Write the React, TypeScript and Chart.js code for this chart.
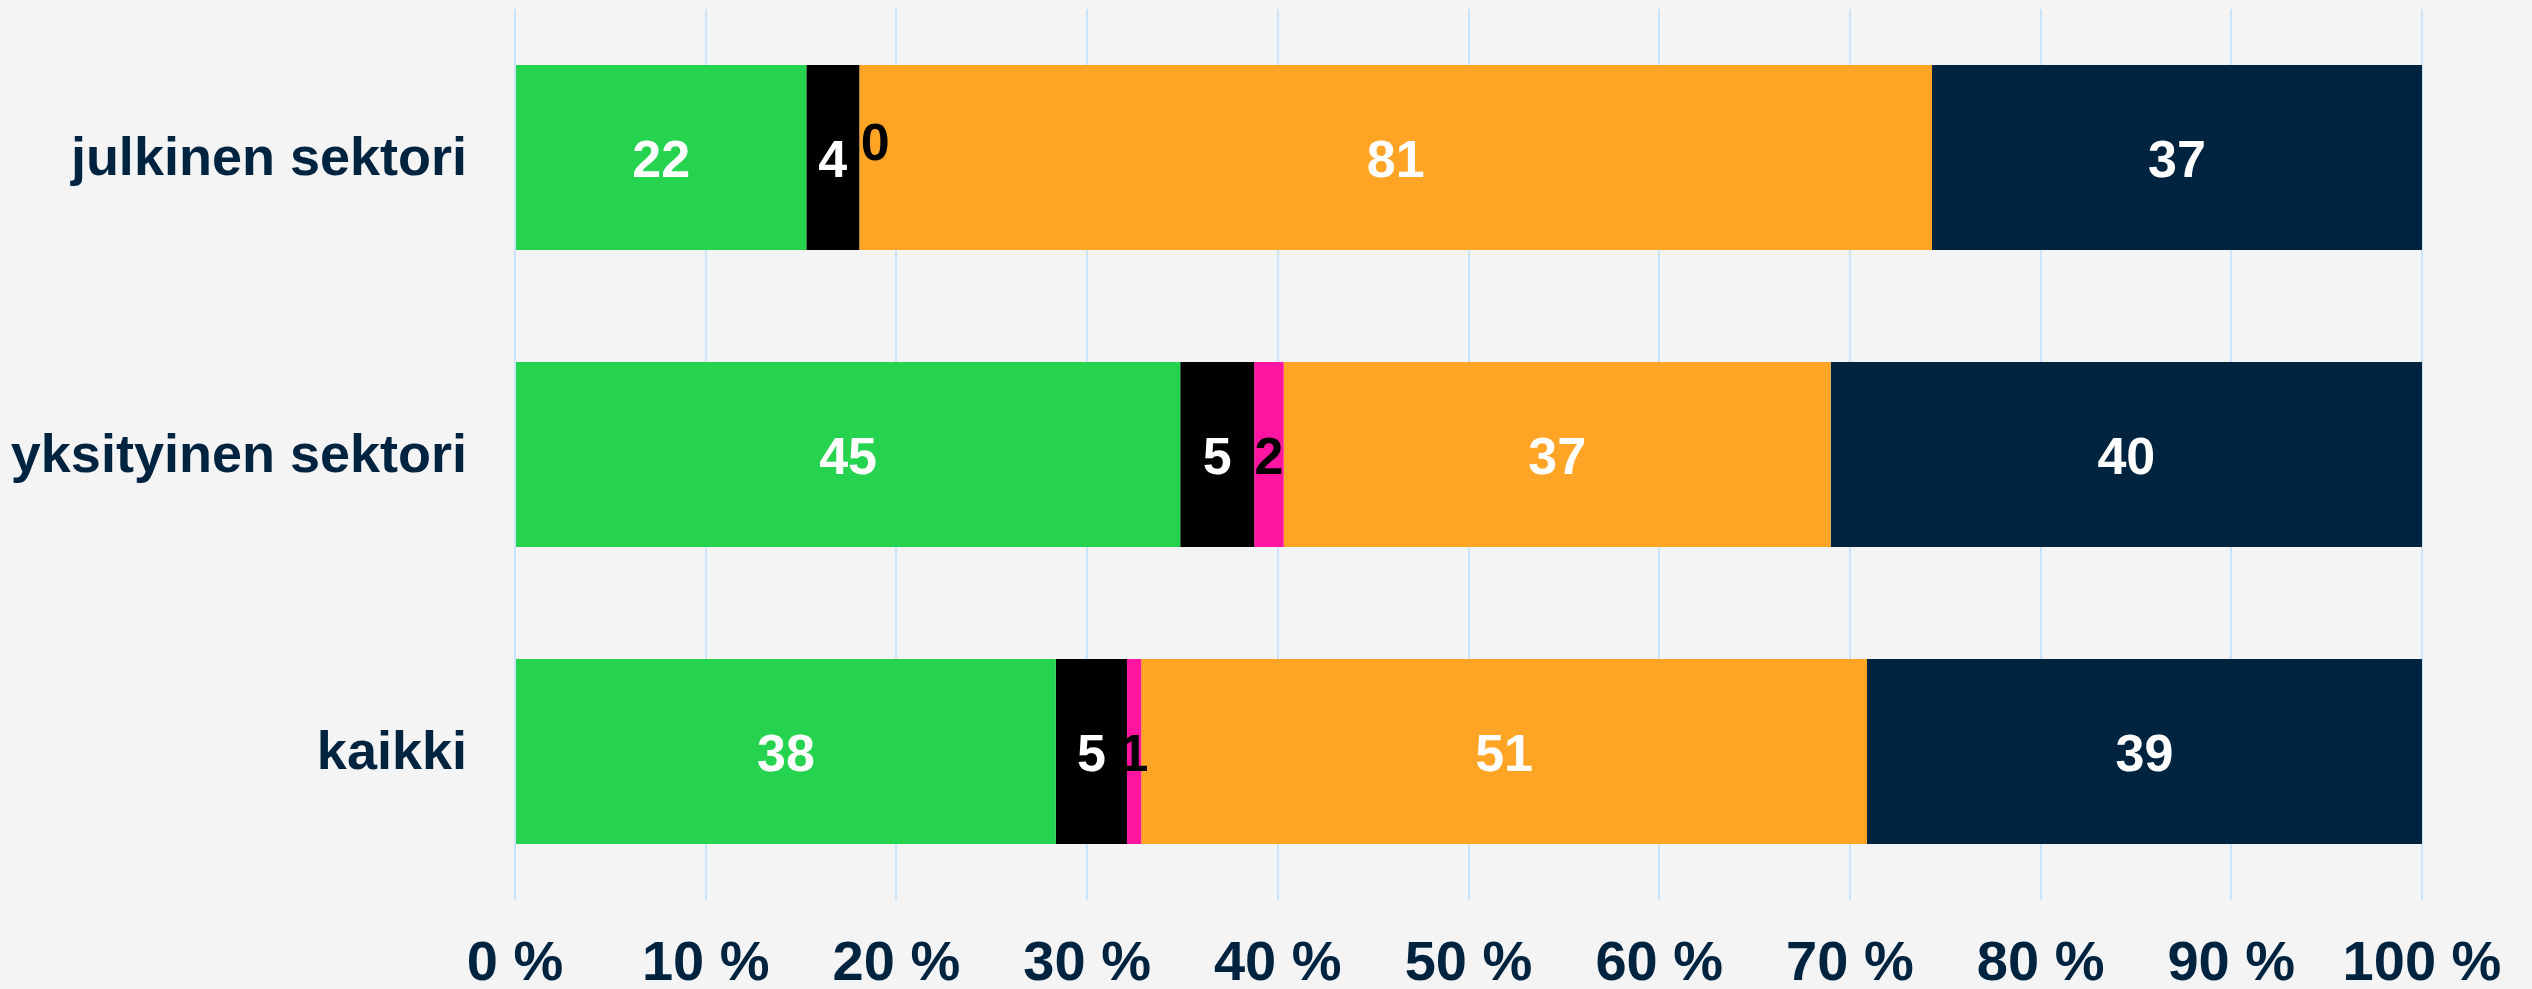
import React, { useEffect, useRef } from "react";
import { Chart, registerables } from "chart.js";

Chart.register(...registerables);

const categories = ["julkinen sektori", "yksityinen sektori", "kaikki"];
const seriesNames = ["Sarja 1", "Sarja 2", "Sarja 3", "Sarja 4", "Sarja 5"];
const greenValues = [22, 45, 38];
const blackValues = [4, 5, 5];
const pinkValues = [0, 2, 1];
const orangeValues = [81, 37, 51];
const navyValues = [37, 40, 39];
const tickValues = [0, 10, 20, 30, 40, 50, 60, 70, 80, 90, 100];

const seriesColors = ["#25d34f", "#000000", "#ff159f", "#ffa425", "#002440"];
const labelColors = ["#ffffff", "#ffffff", "#000000", "#ffffff", "#ffffff"];
const navyText = "#002440";
const bg = "#f4f4f4";

const allSeries = [greenValues, blackValues, pinkValues, orangeValues, navyValues];
const totals = categories.map((_, i) => allSeries.reduce((s, arr) => s + arr[i], 0));

const labelPlugin = {
  id: "barLabels",
  afterDatasetsDraw(chart: any) {
    const ctx = chart.ctx;
    ctx.save();
    ctx.font = "bold 52px 'Liberation Sans', Arial, sans-serif";
    ctx.textAlign = "center";
    ctx.textBaseline = "alphabetic";
    chart.data.datasets.forEach((ds: any, di: number) => {
      const meta = chart.getDatasetMeta(di);
      meta.data.forEach((el: any, i: number) => {
        const raw = allSeries[di][i];
        const props = el.getProps(["x", "y", "base"], true);
        let cx = (props.x + props.base) / 2;
        let cy = props.y;
        if (raw === 0) {
          cx += 16;
          cy -= 17;
        }
        ctx.fillStyle = labelColors[di];
        ctx.fillText(String(raw), cx, cy + 19);
      });
    });
    ctx.restore();
  },
};

const bgPlugin = {
  id: "bgFill",
  beforeDraw(chart: any) {
    const ctx = chart.ctx;
    ctx.save();
    ctx.fillStyle = bg;
    ctx.fillRect(0, 0, chart.width, chart.height);
    ctx.restore();
  },
};

export default function App() {
  const ref = useRef<HTMLCanvasElement>(null);

  useEffect(() => {
    document.body.style.margin = "0";
    document.body.style.background = bg;
    const canvas = ref.current;
    if (!canvas) return;
    const chart = new Chart(canvas, {
      type: "bar",
      data: {
        labels: categories,
        datasets: allSeries.map((arr, di) => ({
          label: seriesNames[di],
          data: arr.map((v, i) => (v / totals[i]) * 100),
          backgroundColor: seriesColors[di],
          borderWidth: 0,
          categoryPercentage: 1,
          barPercentage: 0.623,
        })),
      },
      options: {
        indexAxis: "y",
        animation: false,
        responsive: false,
        maintainAspectRatio: false,
        layout: { padding: { top: 9, right: 110, left: 0, bottom: 0 } },
        plugins: {
          legend: { display: false },
          tooltip: { enabled: false },
        },
        scales: {
          x: {
            stacked: true,
            min: 0,
            max: 100,
            afterBuildTicks(scale: any) {
              scale.ticks = tickValues.map((v) => ({ value: v }));
            },
            afterFit(scale: any) {
              scale.height = 89;
              scale.paddingLeft = 0;
              scale.paddingRight = 0;
            },
            grid: { color: "#c9e4fa", lineWidth: 2, drawTicks: false },
            border: { display: false },
            ticks: {
              padding: 31,
              color: navyText,
              font: { family: "'Liberation Sans', Arial, sans-serif", size: 56, weight: "bold" },
              callback: (v: any) => `${v} %`,
              maxRotation: 0,
              autoSkip: false,
            },
          },
          y: {
            stacked: true,
            afterFit(scale: any) {
              scale.width = 515;
              scale.paddingTop = 0;
              scale.paddingBottom = 0;
            },
            grid: { display: false, drawTicks: false },
            border: { display: false },
            ticks: {
              padding: 48,
              labelOffset: 3,
              color: navyText,
              font: { family: "'Liberation Sans', Arial, sans-serif", size: 54, weight: "bold" },
            },
          },
        },
      },
      plugins: [bgPlugin, labelPlugin],
    });
    return () => chart.destroy();
  }, []);

  return (
    <div style={{ position: "absolute", left: 0, top: 0, width: 2532, height: 989, background: bg }}>
      <canvas ref={ref} width={2532} height={989} style={{ width: 2532, height: 989, display: "block" }} />
    </div>
  );
}
